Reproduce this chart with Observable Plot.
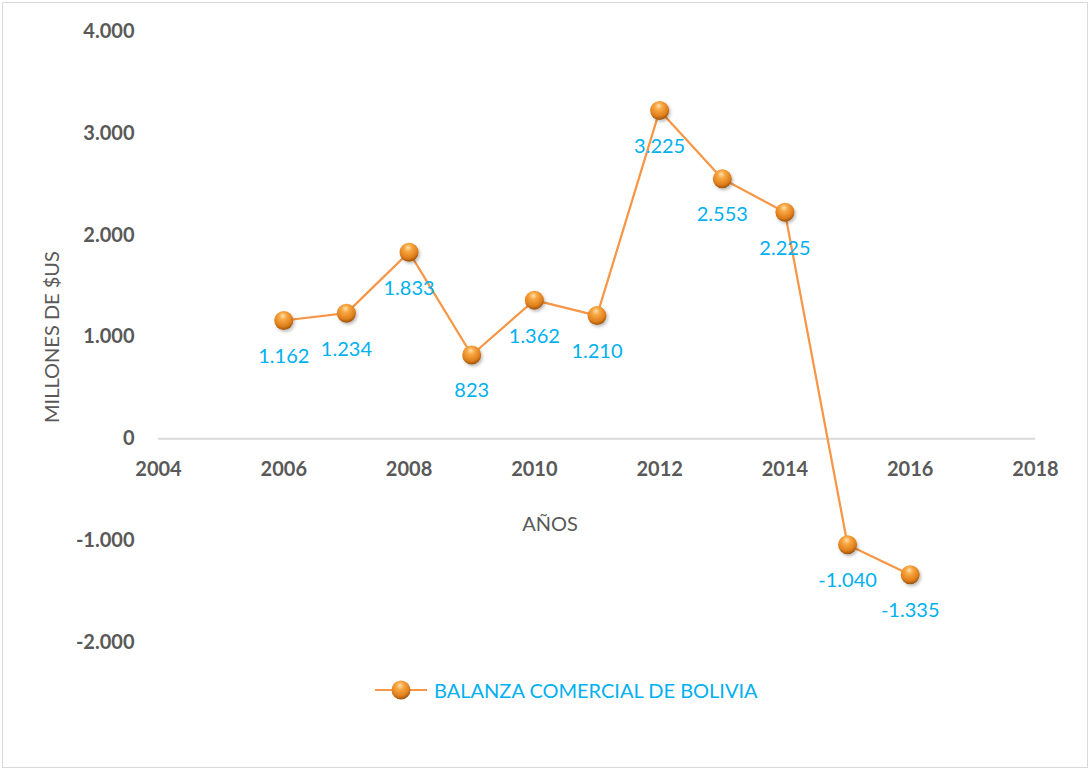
<!DOCTYPE html>
<html>
<head>
<meta charset="utf-8">
<script src="https://cdn.jsdelivr.net/npm/d3@7"></script>
<script src="https://cdn.jsdelivr.net/npm/@observablehq/plot@0.6"></script>
<style>
  html, body { margin: 0; padding: 0; background: #fff; }
  #wrap { position: relative; width: 1090px; height: 770px; font-family: Lato, "Open Sans", sans-serif; overflow: hidden; }
  #border { position: absolute; left: 2px; top: 2px; width: 1084px; height: 764px; border: 1px solid #d9d9d9; }
  #chart { position: absolute; left: 0; top: 0; }
  .ytitle { position: absolute; left: 51px; top: 337px; transform: translate(-50%, -50%) rotate(-90deg); white-space: nowrap; font-size: 20px; color: #595959; }
  .xtitle { position: absolute; left: 550px; top: 523px; transform: translate(-50%, -50%); white-space: nowrap; font-size: 20px; color: #595959; }
  .legend { position: absolute; left: 374px; top: 676px; display: flex; align-items: center; gap: 6px; font-size: 20px; color: #00B0F0; white-space: nowrap; }
</style>
</head>
<body>
<div id="wrap">
  <div id="border"></div>
  <div id="chart"></div>
  <div class="ytitle">MILLONES DE $US</div>
  <div class="xtitle">AÑOS</div>
  <div class="legend">
    <svg width="54" height="28" viewBox="0 0 54 28">
      <defs>
        <radialGradient id="ballGradLeg" cx="45%" cy="35%" r="65%" fx="45%" fy="25%">
          <stop offset="0%" stop-color="#fde0b0"/>
          <stop offset="30%" stop-color="#f8a843"/>
          <stop offset="75%" stop-color="#e07f1c"/>
          <stop offset="100%" stop-color="#9a520c"/>
        </radialGradient>
      </defs>
      <line x1="1" y1="14" x2="53" y2="14" stroke="#F79646" stroke-width="2"/>
      <circle cx="27" cy="14" r="9.5" fill="url(#ballGradLeg)"/>
    </svg>
    <span>BALANZA COMERCIAL DE BOLIVIA</span>
  </div>
</div>
<script>
const years = [2006, 2007, 2008, 2009, 2010, 2011, 2012, 2013, 2014, 2015, 2016];
const balance = [1162, 1234, 1833, 823, 1362, 1210, 3225, 2553, 2225, -1040, -1335];
const yTicks = [-2000, -1000, 0, 1000, 2000, 3000, 4000];
const xTicks = [2004, 2006, 2008, 2010, 2012, 2014, 2016, 2018];

const data = years.map((y, i) => ({year: y, value: balance[i]}));
const loc = d3.formatLocale({decimal: ",", thousands: ".", grouping: [3], currency: ["$", ""], minus: "-"});
const fmt = loc.format(",d");

const chart = Plot.plot({
  width: 1090,
  height: 770,
  marginLeft: 158,
  marginRight: 55,
  marginTop: 31,
  marginBottom: 128,
  style: {fontFamily: "Lato, 'Open Sans', sans-serif", background: "transparent", overflow: "visible"},
  x: {domain: [2004, 2018], axis: null},
  y: {domain: [-2000, 4000]},
  marks: [
    Plot.ruleY([0], {stroke: "#d9d9d9", strokeWidth: 2}),
    Plot.axisY({ticks: yTicks, tickSize: 0, tickPadding: 24, tickFormat: fmt, fontSize: 20, fontWeight: "bold", fill: "#595959", label: null}),
    Plot.text(xTicks, {x: d => d, y: 0, dy: 31, text: d => String(d), fontSize: 20, fontWeight: "bold", fill: "#595959"}),
    Plot.line(data, {x: "year", y: "value", stroke: "#F79646", strokeWidth: 2.25}),
    Plot.dot(data, {x: "year", y: "value", r: 9.5, fill: "url(#ballGrad)", stroke: "none"}),
    Plot.text(data, {x: "year", y: "value", text: d => fmt(d.value), dy: 36, fontSize: 20, fill: "#00B0F0"})
  ]
});

const svg = d3.select(chart);
const defs = svg.insert("defs", ":first-child");
const g = defs.append("radialGradient").attr("id", "ballGrad")
  .attr("cx", "45%").attr("cy", "35%").attr("r", "65%").attr("fx", "45%").attr("fy", "25%");
[["0%", "#fde0b0"], ["30%", "#f8a843"], ["75%", "#e07f1c"], ["100%", "#9a520c"]].forEach(([o, c]) =>
  g.append("stop").attr("offset", o).attr("stop-color", c));
const f = defs.append("filter").attr("id", "ballShadow").attr("x", "-50%").attr("y", "-50%").attr("width", "200%").attr("height", "200%");
f.append("feDropShadow").attr("dx", 1.5).attr("dy", 2).attr("stdDeviation", 1.5).attr("flood-color", "#000").attr("flood-opacity", 0.25);
svg.selectAll("circle").attr("filter", "url(#ballShadow)");

document.getElementById("chart").appendChild(chart);
</script>
</body>
</html>
